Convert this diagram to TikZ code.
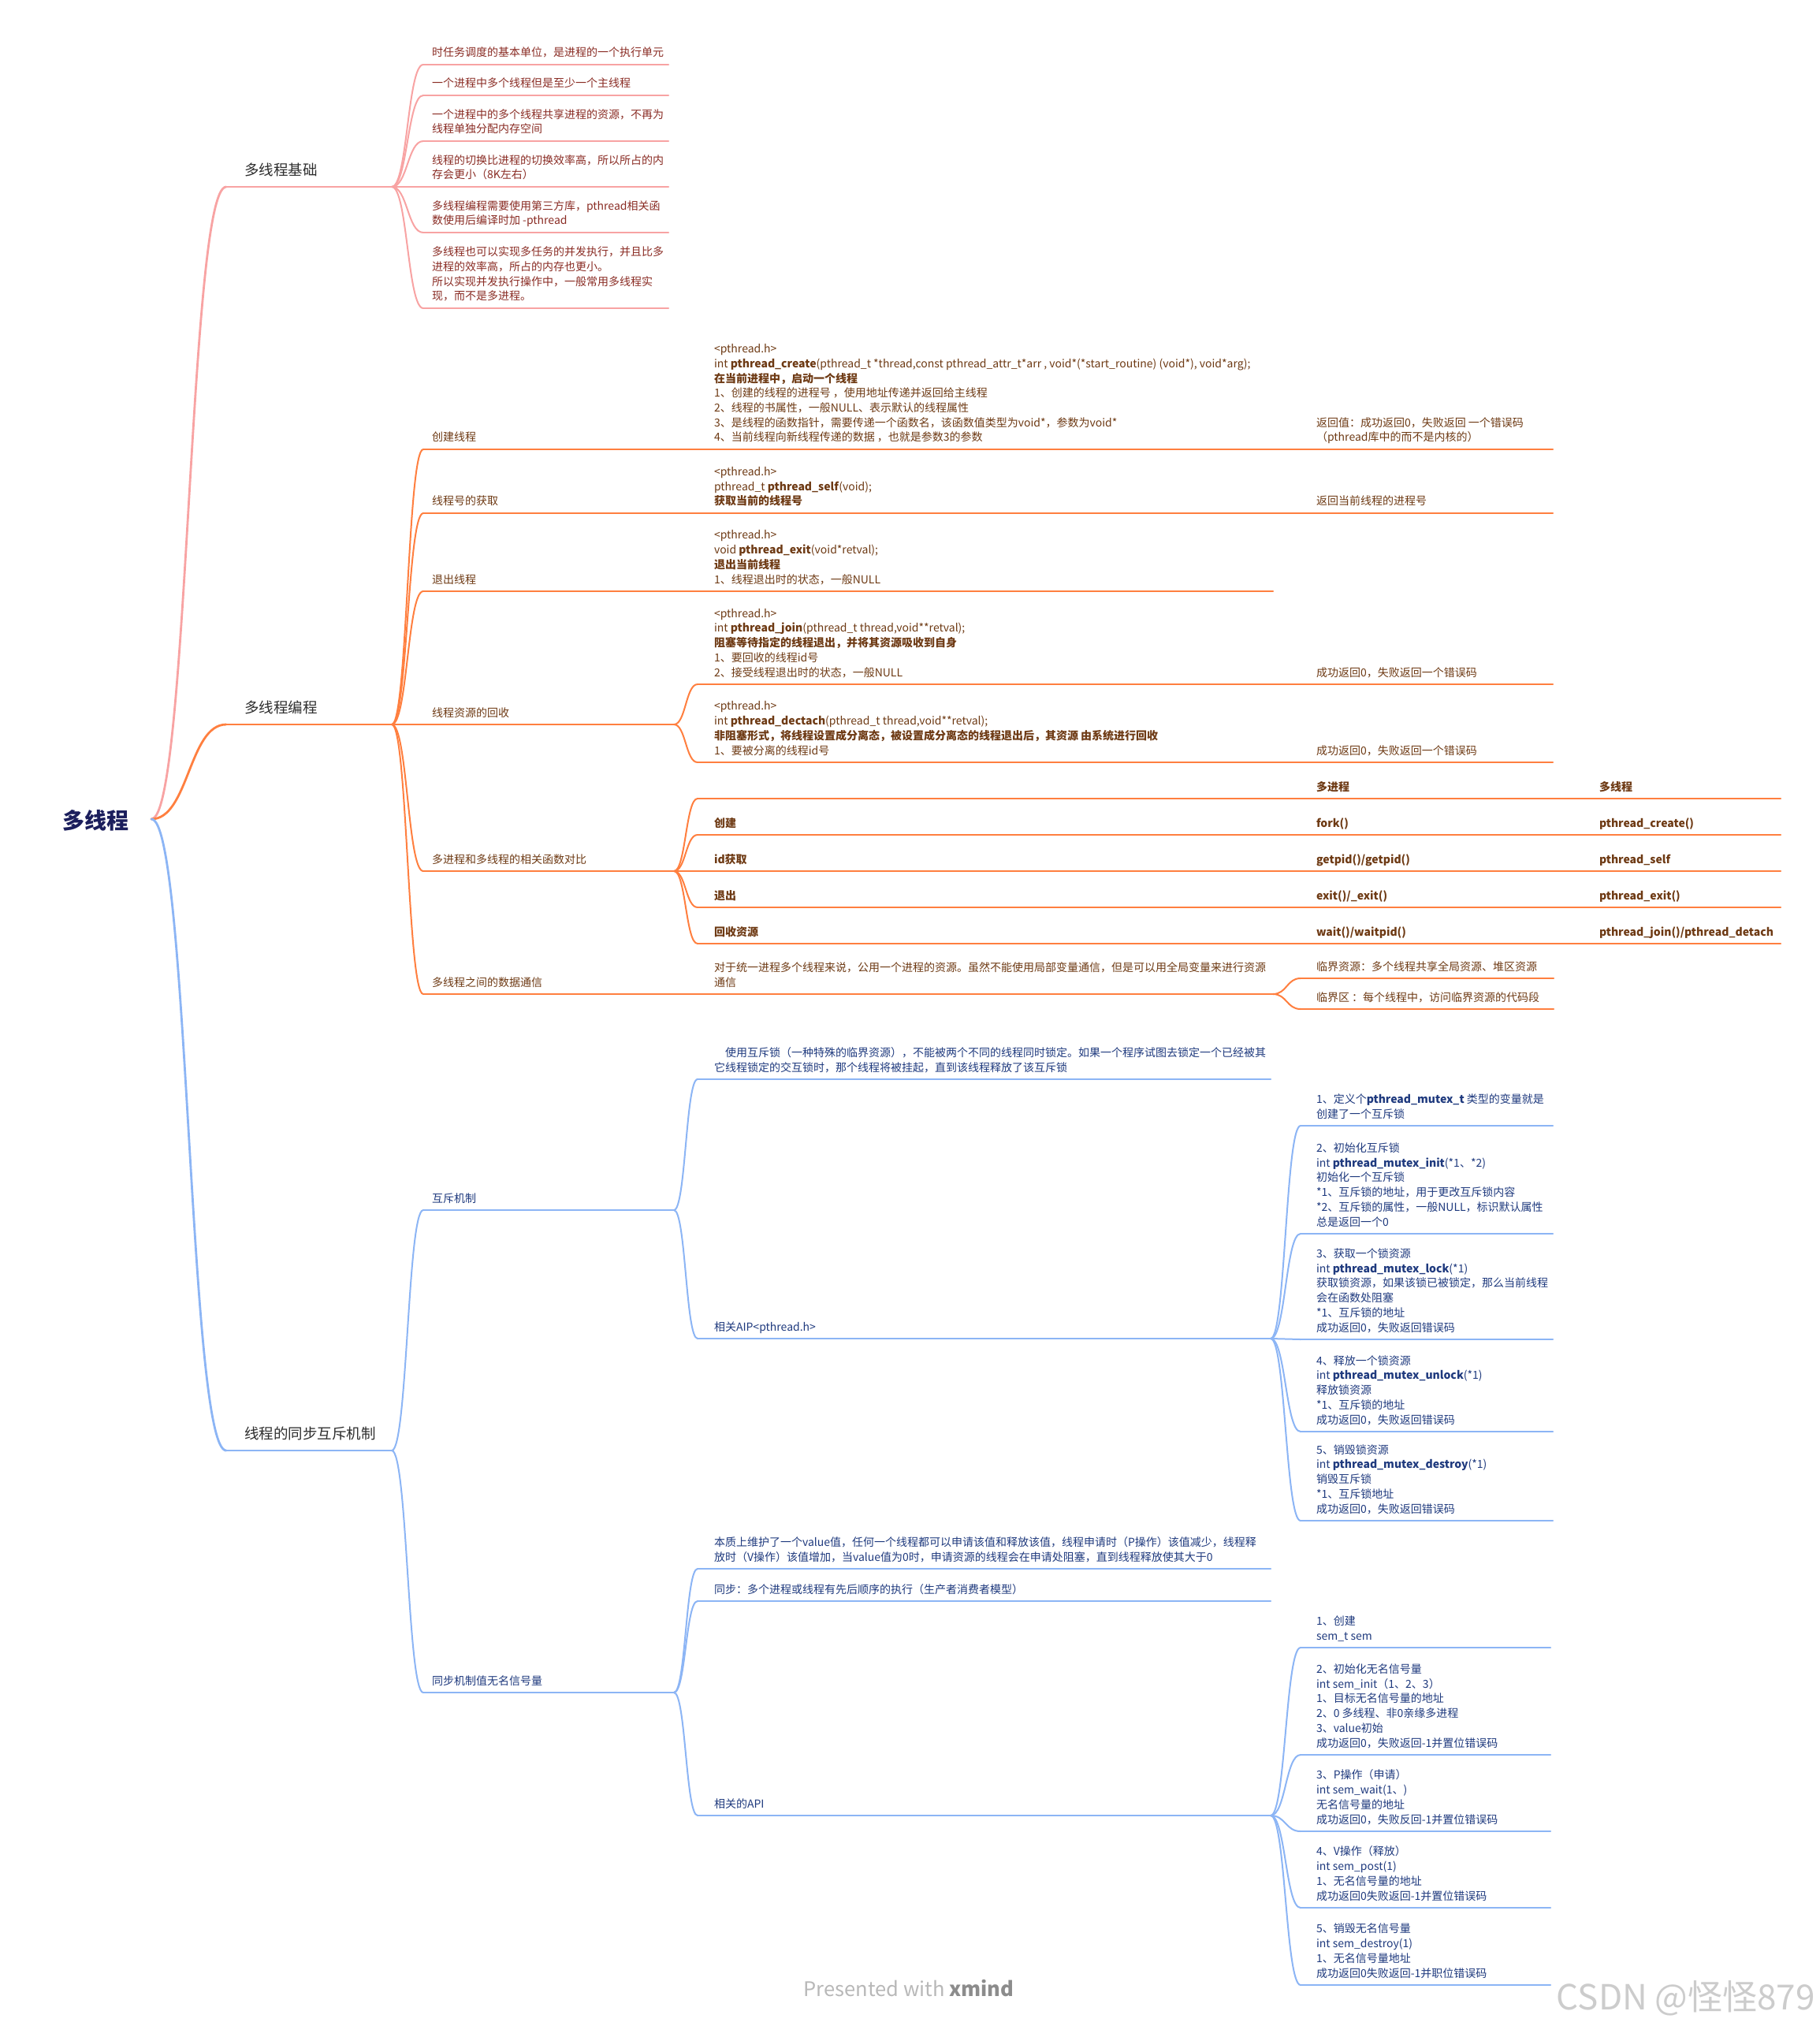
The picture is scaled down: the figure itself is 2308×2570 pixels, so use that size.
\documentclass[tikz,border=0pt]{standalone}
\usepackage{fontspec}
\setmainfont{Noto Sans CJK SC}
\usetikzlibrary{calc}
\definecolor{pinkL}{HTML}{F8A3A3}
\definecolor{pinkT}{HTML}{8A2C24}
\definecolor{orgL}{HTML}{FF7F3F}
\definecolor{orgT}{HTML}{6E3A14}
\definecolor{bluL}{HTML}{8CB5F5}
\definecolor{bluT}{HTML}{1F3A7E}
\definecolor{rootT}{HTML}{1B1E5C}
\definecolor{headT}{HTML}{2E2E2E}
\tikzset{
  lf/.style={inner sep=0pt, outer sep=0pt, align=left, anchor=south west,
    font=\fontsize{14}{18.7}\selectfont, execute at end node=\strut},
  lvlone/.style={inner sep=0pt, outer sep=0pt, anchor=base west,
    font=\fontsize{18.5}{22}\selectfont, text=headT},
  pk line/.style={draw=pinkL, line width=2pt, line cap=round},
  og line/.style={draw=orgL, line width=2pt, line cap=round},
  bl line/.style={draw=bluL, line width=2pt, line cap=round},
  pk main/.style={draw=pinkL, line width=2.8pt, line cap=round},
  og main/.style={draw=orgL, line width=2.8pt, line cap=round},
  bl main/.style={draw=bluL, line width=2.8pt, line cap=round},
  pk text/.style={text=pinkT},
  og text/.style={text=orgT},
  bl text/.style={text=bluT},
}
\newcommand\xcn[3]{\draw[#1] (#2) .. controls ($(#2)!0.5!(#3 |- #2)$) and ($(#3)!0.5!(#2 |- #3)$) .. (#3);}
\newcommand\xtp[7]{%
  \coordinate (#1s) at (#3,#6);
  \coordinate (#1e) at (#4,#6);
  \draw[#2 line] (#1s) -- (#1e);
  \node[lf, #2 text] (#1) at (#5,#6-4.4) {#7};}
\begin{document}
\begin{tikzpicture}[x=1pt, y=-1pt]
\path[use as bounding box, fill=white] (0,0) rectangle (2308,2570);

% root
\node[inner sep=0pt, anchor=base west, font=\fontsize{28}{34}\selectfont\bfseries, text=rootT] (root) at (79,1051) {多线程};
\coordinate (r0) at (192,1039);

% level 1
\coordinate (B1s) at (287,237); \coordinate (B1e) at (497,237);
\draw[pk line] (B1s) -- (B1e);
\node[lvlone] (B1) at (310,222) {多线程基础};
\coordinate (B2s) at (287,919); \coordinate (B2e) at (497,919);
\draw[og line] (B2s) -- (B2e);
\node[lvlone] (B2) at (310,904) {多线程编程};
\coordinate (B3s) at (287,1840); \coordinate (B3e) at (497,1840);
\draw[bl line] (B3s) -- (B3e);
\node[lvlone] (B3) at (310,1825) {线程的同步互斥机制};
\xcn{pk main}{r0}{B1s}
\xcn{og main}{r0}{B2s}
\xcn{bl main}{r0}{B3s}

% ===== 多线程基础 =====
\xtp{L1}{pk}{537}{848}{548}{82}{时任务调度的基本单位，是进程的一个执行单元}
\xtp{L2}{pk}{537}{848}{548}{121}{一个进程中多个线程但是至少一个主线程}
\xtp{L3}{pk}{537}{848}{548}{179}{一个进程中的多个线程共享进程的资源，不再为\\线程单独分配内存空间}
\xtp{L4}{pk}{537}{848}{548}{237}{线程的切换比进程的切换效率高，所以所占的内\\存会更小（8K左右）}
\xtp{L5}{pk}{537}{848}{548}{295}{多线程编程需要使用第三方库，pthread相关函\\数使用后编译时加 -pthread}
\xtp{L6}{pk}{537}{848}{548}{391}{多线程也可以实现多任务的并发执行，并且比多\\进程的效率高，所占的内存也更小。\\所以实现并发执行操作中，一般常用多线程实\\现，而不是多进程。}
\foreach \n in {L1,L2,L3,L4,L5,L6} {\xcn{pk line}{B1e}{\n s}}

% ===== 多线程编程 =====
\xtp{O1}{og}{537}{855}{548}{570}{创建线程}
\xtp{O2}{og}{537}{855}{548}{651}{线程号的获取}
\xtp{O3}{og}{537}{855}{548}{750}{退出线程}
\xtp{O4}{og}{537}{855}{548}{919}{线程资源的回收}
\xtp{O5}{og}{537}{855}{548}{1105}{多进程和多线程的相关函数对比}
\xtp{O6}{og}{537}{855}{548}{1261}{多线程之间的数据通信}
\foreach \n in {O1,O2,O3,O4,O5,O6} {\xcn{og line}{B2e}{\n s}}

\xtp{C1}{og}{885}{1612}{906}{570}{<pthread.h>\\int \textbf{pthread\_create}(pthread\_t *thread,const pthread\_attr\_t*arr , void*(*start\_routine) (void*), void*arg);\\\textbf{在当前进程中，启动一个线程}\\1、创建的线程的进程号 ，使用地址传递并返回给主线程\\2、线程的书属性，一般NULL、表示默认的线程属性\\3、是线程的函数指针，需要传递一个函数名，该函数值类型为void*，参数为void*\\4、当前线程向新线程传递的数据 ，也就是参数3的参数}
\xtp{R1}{og}{1650}{1970}{1670}{570}{返回值：成功返回0，失败返回 一个错误码\\（pthread库中的而不是内核的）}
\xtp{C2}{og}{885}{1612}{906}{651}{<pthread.h>\\pthread\_t \textbf{pthread\_self}(void);\\\textbf{获取当前的线程号}}
\xtp{R2}{og}{1650}{1970}{1670}{651}{返回当前线程的进程号}
\xtp{C3}{og}{885}{1615}{906}{750}{<pthread.h>\\void \textbf{pthread\_exit}(void*retval);\\\textbf{退出当前线程}\\1、线程退出时的状态，一般NULL}
\xtp{C4}{og}{885}{1612}{906}{868}{<pthread.h>\\int \textbf{pthread\_join}(pthread\_t thread,void**retval);\\\textbf{阻塞等待指定的线程退出，并将其资源吸收到自身}\\1、要回收的线程id号\\2、接受线程退出时的状态，一般NULL}
\xtp{R4}{og}{1650}{1970}{1670}{868}{成功返回0，失败返回一个错误码}
\xtp{C5}{og}{885}{1612}{906}{967}{<pthread.h>\\int \textbf{pthread\_dectach}(pthread\_t thread,void**retval);\\\textbf{非阻塞形式，将线程设置成分离态，被设置成分离态的线程退出后，其资源 由系统进行回收}\\1、要被分离的线程id号}
\xtp{R5}{og}{1650}{1970}{1670}{967}{成功返回0，失败返回一个错误码}
\xcn{og line}{O1e}{C1s}
\xcn{og line}{C1e}{R1s}
\xcn{og line}{O2e}{C2s}
\xcn{og line}{C2e}{R2s}
\xcn{og line}{O3e}{C3s}
\xcn{og line}{O4e}{C4s}
\xcn{og line}{C4e}{R4s}
\xcn{og line}{O4e}{C5s}
\xcn{og line}{C5e}{R5s}

% comparison table
\xtp{T0}{og}{885}{1612}{906}{1013}{}
\xtp{P0}{og}{1650}{2000}{1670}{1013}{\textbf{多进程}}
\xtp{Q0}{og}{2010}{2259}{2029}{1013}{\textbf{多线程}}
\xtp{T1}{og}{885}{1612}{906}{1059}{\textbf{创建}}
\xtp{P1}{og}{1650}{2000}{1670}{1059}{\textbf{fork()}}
\xtp{Q1}{og}{2010}{2259}{2029}{1059}{\textbf{pthread\_create()}}
\xtp{T2}{og}{885}{1612}{906}{1105}{\textbf{id获取}}
\xtp{P2}{og}{1650}{2000}{1670}{1105}{\textbf{getpid()/getpid()}}
\xtp{Q2}{og}{2010}{2259}{2029}{1105}{\textbf{pthread\_self}}
\xtp{T3}{og}{885}{1612}{906}{1151}{\textbf{退出}}
\xtp{P3}{og}{1650}{2000}{1670}{1151}{\textbf{exit()/\_exit()}}
\xtp{Q3}{og}{2010}{2259}{2029}{1151}{\textbf{pthread\_exit()}}
\xtp{T4}{og}{885}{1612}{906}{1197}{\textbf{回收资源}}
\xtp{P4}{og}{1650}{2000}{1670}{1197}{\textbf{wait()/waitpid()}}
\xtp{Q4}{og}{2010}{2259}{2029}{1197}{\textbf{pthread\_join()/pthread\_detach}}
\foreach \r in {0,...,4} {
  \xcn{og line}{O5e}{T\r s}
  \xcn{og line}{T\r e}{P\r s}
  \xcn{og line}{P\r e}{Q\r s}
}

% data communication
\xtp{D1}{og}{885}{1615}{906}{1261}{对于统一进程多个线程来说，公用一个进程的资源。虽然不能使用局部变量通信，但是可以用全局变量来进行资源\\通信}
\xtp{D2}{og}{1650}{1971}{1670}{1241}{临界资源：多个线程共享全局资源、堆区资源}
\xtp{D3}{og}{1650}{1971}{1670}{1280}{临界区 ：每个线程中，访问临界资源的代码段}
\xcn{og line}{O6e}{D1s}
\xcn{og line}{D1e}{D2s}
\xcn{og line}{D1e}{D3s}

% ===== 线程的同步互斥机制 =====
\xtp{M}{bl}{537}{855}{548}{1535}{互斥机制}
\xtp{S}{bl}{537}{855}{548}{2147}{同步机制值无名信号量}
\xcn{bl line}{B3e}{Ms}
\xcn{bl line}{B3e}{Ss}

\xtp{M1}{bl}{885}{1612}{906}{1369}{\hspace*{14pt}使用互斥锁（一种特殊的临界资源），不能被两个不同的线程同时锁定。如果一个程序试图去锁定一个已经被其\\它线程锁定的交互锁时，那个线程将被挂起，直到该线程释放了该互斥锁}
\xtp{M2}{bl}{885}{1612}{906}{1698}{相关AIP<pthread.h>}
\xcn{bl line}{Me}{M1s}
\xcn{bl line}{Me}{M2s}

\xtp{MA1}{bl}{1650}{1970}{1670}{1428}{1、定义个\textbf{pthread\_mutex\_t} 类型的变量就是\\创建了一个互斥锁}
\xtp{MA2}{bl}{1650}{1970}{1670}{1565}{2、初始化互斥锁\\int \textbf{pthread\_mutex\_init}(*1、*2)\\初始化一个互斥锁\\*1、互斥锁的地址，用于更改互斥锁内容\\*2、互斥锁的属性，一般NULL，标识默认属性\\总是返回一个0}
\xtp{MA3}{bl}{1650}{1970}{1670}{1699}{3、获取一个锁资源\\int \textbf{pthread\_mutex\_lock}(*1)\\获取锁资源，如果该锁已被锁定，那么当前线程\\会在函数处阻塞\\*1、互斥锁的地址\\成功返回0，失败返回错误码}
\xtp{MA4}{bl}{1650}{1970}{1670}{1816}{4、释放一个锁资源\\int \textbf{pthread\_mutex\_unlock}(*1)\\释放锁资源\\*1、互斥锁的地址\\成功返回0，失败返回错误码}
\xtp{MA5}{bl}{1650}{1970}{1670}{1929}{5、销毁锁资源\\int \textbf{pthread\_mutex\_destroy}(*1)\\销毁互斥锁\\*1、互斥锁地址\\成功返回0，失败返回错误码}
\foreach \n in {MA1,MA2,MA3,MA4,MA5} {\xcn{bl line}{M2e}{\n s}}

\xtp{S1}{bl}{885}{1612}{906}{1990}{本质上维护了一个value值，任何一个线程都可以申请该值和释放该值，线程申请时（P操作）该值减少，线程释\\放时（V操作）该值增加，当value值为0时，申请资源的线程会在申请处阻塞，直到线程释放使其大于0}
\xtp{S2}{bl}{885}{1612}{906}{2031}{同步：多个进程或线程有先后顺序的执行（生产者消费者模型）}
\xtp{S3}{bl}{885}{1612}{906}{2303}{相关的API}
\foreach \n in {S1,S2,S3} {\xcn{bl line}{Se}{\n s}}

\xtp{SA1}{bl}{1650}{1967}{1670}{2090}{1、创建\\sem\_t sem}
\xtp{SA2}{bl}{1650}{1967}{1670}{2226}{2、初始化无名信号量\\int sem\_init（1、2、3）\\1、目标无名信号量的地址\\2、0 多线程、非0亲缘多进程\\3、value初始\\成功返回0，失败返回-1并置位错误码}
\xtp{SA3}{bl}{1650}{1967}{1670}{2323}{3、P操作（申请）\\int sem\_wait(1、)\\无名信号量的地址\\成功返回0，失败反回-1并置位错误码}
\xtp{SA4}{bl}{1650}{1967}{1670}{2420}{4、V操作（释放）\\int sem\_post(1)\\1、无名信号量的地址\\成功返回0失败返回-1并置位错误码}
\xtp{SA5}{bl}{1650}{1967}{1670}{2518}{5、销毁无名信号量\\int sem\_destroy(1)\\1、无名信号量地址\\成功返回0失败返回-1并职位错误码}
\foreach \n in {SA1,SA2,SA3,SA4,SA5} {\xcn{bl line}{S3e}{\n s}}

% watermarks
\node[anchor=base, inner sep=0pt, font=\fontsize{25.5}{30}\selectfont, text=black!28] (wm1) at (1153,2532) {Presented with {\color{black!45}\textbf{xmind}}};
\node[anchor=base east, inner sep=0pt, font=\fontsize{44}{52}\selectfont, text=black!20] (wm2) at (2303,2549) {CSDN @怪怪879};
\end{tikzpicture}
\end{document}
